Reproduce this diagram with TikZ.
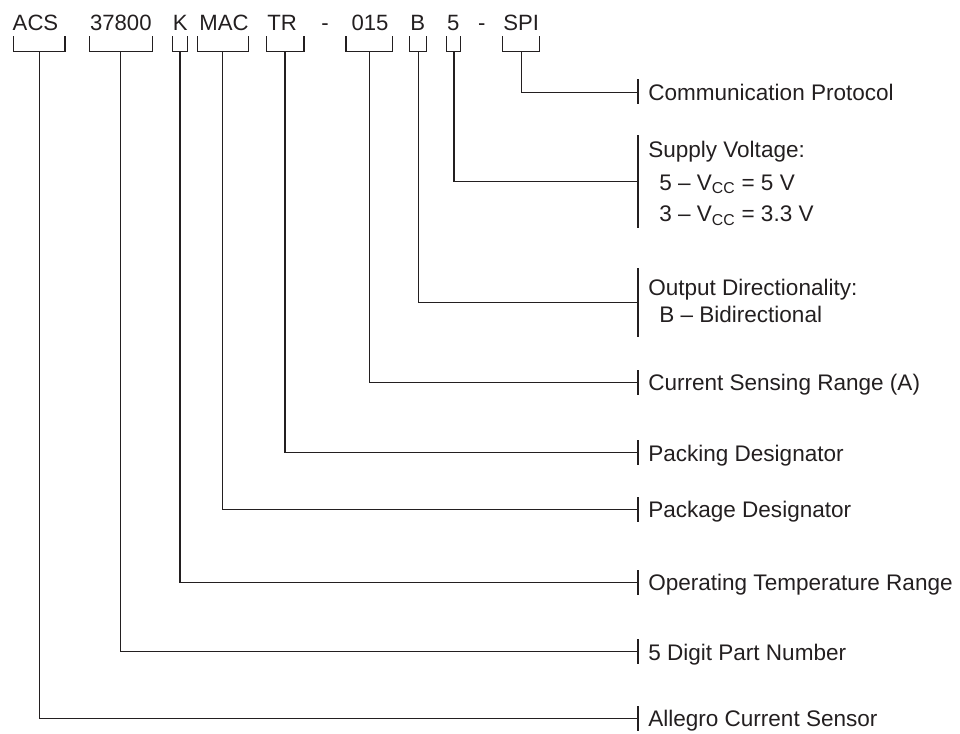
\documentclass[tikz,border=0pt]{standalone}
\usepackage{fontspec}
\setmainfont{Liberation Sans}
\definecolor{ink}{HTML}{231F20}
\begin{document}
\begin{tikzpicture}[x=0.75pt,y=-0.75pt,
  lin/.style={draw=ink,line width=1.1pt},
  code/.style={inner sep=0pt,anchor=base,text=ink,font=\fontsize{16.6}{20}\selectfont},
  lbl/.style={inner sep=0pt,anchor=base west,text=ink,font=\fontsize{16.9}{20}\selectfont}]
\useasboundingbox (0,0) rectangle (960,733);
% part-number codes
\node[code] (cACS) at (35.5,30) {ACS};
\node[code] (c378) at (120.8,30) {37800};
\node[code] (cK) at (180.3,30) {K};
\node[code] (cMAC) at (224,30) {MAC};
\node[code] (cTR) at (282,30) {TR};
\node[code] (cd1) at (325,30) {-};
\node[code] (c015) at (370,30) {015};
\node[code] (cB) at (417.8,30) {B};
\node[code] (c5) at (453.3,30) {5};
\node[code] (cd2) at (481.7,30) {-};
\node[code] (cSPI) at (521.2,30) {SPI};
% brackets
\foreach \n/\a/\b/\s in {ACS/13.3/65/39.3, 378/89.3/152.3/120.7, K/172.3/187.3/180,
  MAC/197.3/248.3/222.7, TR/266.7/304/285, 015/346/392.7/369.3, B/409.3/426.7/418.3,
  5/446.7/460.7/454, SPI/502.7/539.3/521.7}{
  \draw[lin] (\a,36) -- (\a,51.7) -- (\b,51.7) -- (\b,36);
  \coordinate (s\n) at (\s,51.7);
}
% labels
\node[lbl] (lCOM) at (648,100.6) {Communication Protocol};
\node[lbl] (lSUP) at (648,157.7) {Supply Voltage:};
\node[lbl] (lSUP1) at (659,190) {5 – V\textsubscript{CC} = 5 V};
\node[lbl] (lSUP2) at (659,221.7) {3 – V\textsubscript{CC} = 3.3 V};
\node[lbl] (lOUT) at (648,295) {Output Directionality:};
\node[lbl] (lOUT1) at (659,322.3) {B – Bidirectional};
\node[lbl] (lCUR) at (648,390.6) {Current Sensing Range (A)};
\node[lbl] (lPCK) at (648,461) {Packing Designator};
\node[lbl] (lPKG) at (648,517.6) {Package Designator};
\node[lbl] (lOPT) at (648,590.6) {Operating Temperature Range};
\node[lbl] (lDIG) at (648,660) {5 Digit Part Number};
\node[lbl] (lALL) at (648,726.6) {Allegro Current Sensor};
% bars at label side
\foreach \n/\y/\t/\b in {COM/92.3/79/104, SUP/181.7/135/228.3, OUT/302.3/268.3/336.7,
  CUR/382.3/370/394.7, PCK/452.7/440.3/465.1, PKG/509.3/497/521.7, OPT/582.3/570/594.7,
  DIG/651.7/639.3/664.1, ALL/718.3/706/730.7}{
  \draw[lin] (638,\t) -- (638,\b);
  \coordinate (t\n) at (638,\y);
}
% connectors
\draw[lin] (sSPI) |- (tCOM);
\draw[lin] (s5) |- (tSUP);
\draw[lin] (sB) |- (tOUT);
\draw[lin] (s015) |- (tCUR);
\draw[lin] (sTR) |- (tPCK);
\draw[lin] (sMAC) |- (tPKG);
\draw[lin] (sK) |- (tOPT);
\draw[lin] (s378) |- (tDIG);
\draw[lin] (sACS) |- (tALL);
\end{tikzpicture}
\end{document}
